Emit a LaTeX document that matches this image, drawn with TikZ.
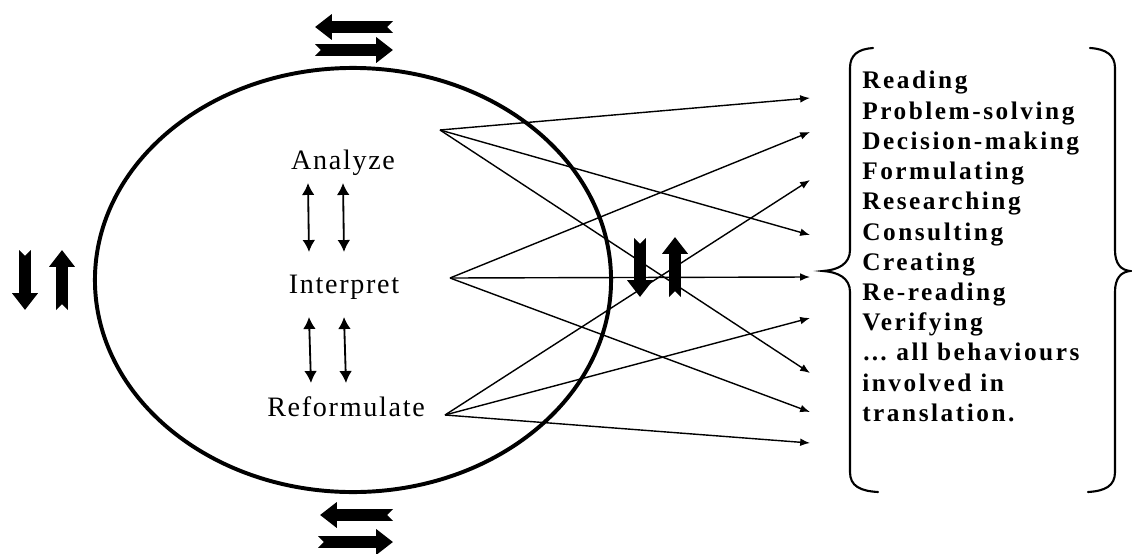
\documentclass[tikz,border=0pt]{standalone}
\usepackage{fontspec}
\setmainfont{Liberation Serif}
\newfontfamily\listfont[LetterSpace=10]{Liberation Serif}
\newfontfamily\stepfont[LetterSpace=6]{Liberation Serif}
\usetikzlibrary{arrows.meta}

\begin{document}
\begin{tikzpicture}[x=0.025cm,y=-0.025cm,
    lbl/.style={font=\stepfont\fontsize{20}{24}\selectfont,inner sep=1pt},
    flow/.style={-{Latex[length=7pt,width=5.5pt]},line width=1pt},
    dbl/.style={{Latex[length=8.5pt,width=9pt]}-{Latex[length=8.5pt,width=9pt]},line width=1.3pt},
    blk/.style={line width=8.5pt,{Triangle Cap[reversed]}-{Triangle[length=0.42cm,width=0.62cm]}},
    brc/.style={line width=1.5pt,line cap=round}]
    \useasboundingbox (0,0) rectangle (1132,553);

    \draw[line width=2.8pt] (353,280) ellipse [x radius=6.45cm,y radius=5.3cm];

    \node[lbl] (an) at (343,163) {Analyze};
    \node[lbl] (in) at (344,287) {Interpret};
    \node[lbl] (re) at (346,407) {Reformulate};

    \node[anchor=north west,inner sep=0pt,align=left,
      font=\listfont\bfseries\fontsize{18}{21.5}\selectfont] (list) at (862,71)
      {Reading\\Problem-solving\\Decision-making\\Formulating\\Researching\\
       Consulting\\Creating\\Re-reading\\Verifying\\\ldots\ all behaviours\\
       involved in\\translation.};

    % start points
    \coordinate (a) at (440,130);
    \coordinate (i) at (450,278);
    \coordinate (r) at (445,415);
    % arrow ends
    \coordinate (t1) at (810,98);
    \coordinate (t2) at (810,132);
    \coordinate (t3) at (810,180);
    \coordinate (t4) at (810,235);
    \coordinate (t5) at (810,277);
    \coordinate (t6) at (810,318);
    \coordinate (t7) at (810,373);
    \coordinate (t8) at (810,412);
    \coordinate (t9) at (810,443);

    \path[flow]
    (a) edge (t1)
    (a) edge (t4)
    (a) edge (t7)
    (i) edge (t2)
    (i) edge (t5)
    (i) edge (t8)
    (r) edge (t3)
    (r) edge (t6)
    (r) edge (t9)
    ;

    \draw[dbl] ([xshift=-0.875cm,yshift=-0.5cm]an.center) -- ([xshift=-0.875cm,yshift=0.875cm]in.center);
    \draw[dbl] ([yshift=-0.5cm]an.center) -- ([yshift=0.875cm]in.center);
    \draw[dbl] ([xshift=-0.875cm,yshift=-0.75cm]in.center) -- ([xshift=-0.875cm,yshift=0.6cm]re.center);
    \draw[dbl] ([yshift=-0.75cm]in.center) -- ([yshift=0.6cm]re.center);

    % block arrows
    \draw[blk] (393,27) -- (315,27);
    \draw[blk] (315,50) -- (393,50);
    \draw[blk] (393,515) -- (320,515);
    \draw[blk] (318,542) -- (393,542);
    \draw[blk] (25,250) -- (25,310);
    \draw[blk] (62,310) -- (62,250);
    \draw[blk] (640,238) -- (640,297);
    \draw[blk] (675,297) -- (675,237);

    % braces
    \draw[brc] (873,48) .. controls (858,49) and (850,55) .. (850,68) -- (850,250)
      .. controls (850,264) and (838,270) .. (823,271)
      .. controls (838,272) and (850,278) .. (850,292) -- (850,472)
      .. controls (850,486) and (860,491) .. (878,492);
    \draw[brc] (1090,48) .. controls (1106,49) and (1115,55) .. (1115,68) -- (1115,250)
      .. controls (1115,264) and (1121,270) .. (1130,271)
      .. controls (1121,272) and (1115,278) .. (1115,292) -- (1115,472)
      .. controls (1115,486) and (1105,491) .. (1088,492);
  \end{tikzpicture}
\end{document}
